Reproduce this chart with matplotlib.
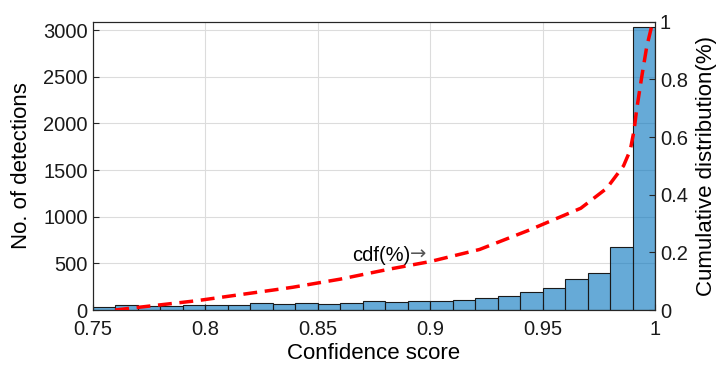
# Confidence score histogram with cdf curve
import matplotlib
matplotlib.use('Agg')
import matplotlib.pyplot as plt
import numpy as np

plt.rcParams['font.family'] = ['Liberation Sans', 'DejaVu Sans']

# histogram bins (0.01 wide) and counts
bin_edges = [0.75, 0.76, 0.77, 0.78, 0.79, 0.80, 0.81, 0.82, 0.83, 0.84, 0.85, 0.86, 0.87,
             0.88, 0.89, 0.90, 0.91, 0.92, 0.93, 0.94, 0.95, 0.96, 0.97, 0.98, 0.99, 1.00]
counts = [28, 50, 39, 39, 57, 57, 57, 71, 64, 71, 64, 71, 93,
          89, 100, 100, 110, 128, 153, 196, 232, 328, 392, 678, 3030]

# cumulative distribution curve
cdf_x = [0.760, 0.779, 0.796, 0.8125, 0.830, 0.839, 0.860, 0.882, 0.900, 0.922, 0.944,
         0.967, 0.9785, 0.986, 0.989, 0.9907, 0.9918, 0.9941, 0.9963, 0.9988, 1.0]
cdf_y = [0.0, 0.017, 0.032, 0.050, 0.069, 0.079, 0.107, 0.142, 0.168, 0.21, 0.277,
         0.353, 0.422, 0.50, 0.555, 0.624, 0.694, 0.809, 0.913, 0.994, 1.0]

xticks = [0.75, 0.8, 0.85, 0.9, 0.95, 1.0]
xtick_labels = ['0.75', '0.8', '0.85', '0.9', '0.95', '1']
yticks = [0, 500, 1000, 1500, 2000, 2500, 3000]
rticks = [0, 0.2, 0.4, 0.6, 0.8, 1.0]
rtick_labels = ['0', '0.2', '0.4', '0.6', '0.8', '1']

dark = '#262626'

fig = plt.figure(figsize=(7.21, 3.71), dpi=100)
ax = fig.add_axes([0.1286, 0.1644, 0.7799, 0.7771])

widths = np.diff(bin_edges)
ax.bar(bin_edges[:-1], counts, width=widths, align='edge', facecolor=(0, 0.447, 0.741, 0.6),
       edgecolor='#1a1a1a', linewidth=0.8, zorder=2)

ax.set_xlim(0.75, 1.0)
ax.set_ylim(0, 3090)
ax.set_xticks(xticks)
ax.set_xticklabels(xtick_labels)
ax.set_yticks(yticks)
ax.grid(True, color='#dcdcdc', linewidth=0.8, zorder=0)
ax.set_axisbelow(True)
ax.tick_params(direction='in', labelsize=14.5, colors=dark, labelcolor='#1a1a1a', length=4)
ax.tick_params(axis='x', pad=7)
for s in ax.spines.values():
    s.set_color(dark)
    s.set_linewidth(0.8)
ax.set_xlabel('Confidence score', fontsize=16, labelpad=3)
ax.set_ylabel('No. of detections', fontsize=16, labelpad=8)

# label with a thin grey arrow
ax.text(0.8911, 589, 'cdf(%)', fontsize=14.5, ha='right', va='center', zorder=5)
ax.text(0.8911, 600, '\u2192', fontsize=14, ha='left', va='center', color='#555555',
        family='DejaVu Sans', zorder=5)

ax2 = ax.twinx()
ax2.plot(cdf_x, cdf_y, color='red', linestyle=(0, (4, 2.2)), linewidth=2.5, zorder=4)
ax2.set_ylim(0, 1)
ax2.set_yticks(rticks)
ax2.set_yticklabels(rtick_labels)
ax2.tick_params(direction='in', labelsize=14.5, colors=dark, labelcolor='#1a1a1a', length=4)
for s in ax2.spines.values():
    s.set_color(dark)
    s.set_linewidth(0.8)
ax2.set_ylabel('Cumulative distribution(%)', fontsize=16, labelpad=6)

fig.savefig('out.png', dpi=100)
